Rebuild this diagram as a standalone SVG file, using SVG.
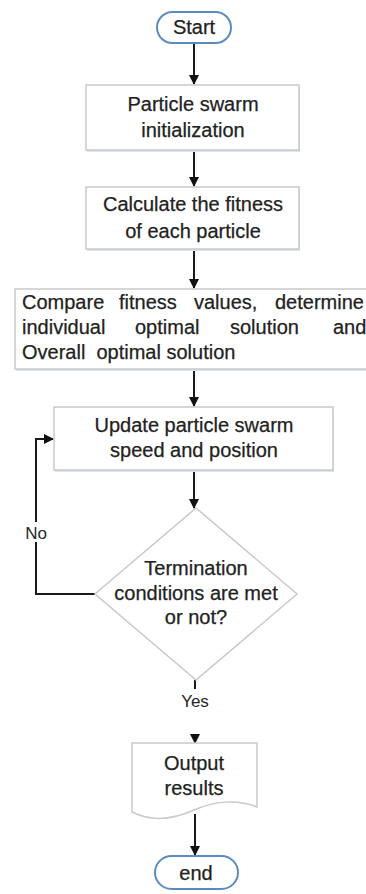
<svg xmlns="http://www.w3.org/2000/svg" width="366" height="894" viewBox="0 0 366 894">
<style>
.t{font-family:"Liberation Sans",Arial,sans-serif;font-size:20px;fill:#222;stroke:#222;stroke-width:0.25;text-anchor:middle}
.l{font-family:"Liberation Sans",Arial,sans-serif;font-size:20px;fill:#222;stroke:#222;stroke-width:0.25}
.lab{font-family:"Liberation Sans",Arial,sans-serif;font-size:17px;fill:#262626;text-anchor:middle}
.box{fill:#fff;stroke:#c9c9c9;stroke-width:1.5}
.sh{fill:#dbe4ee}
.term{fill:#fff;stroke:#5b8bc0;stroke-width:2}
.c{fill:none;stroke:#1a1a1a;stroke-width:2}
</style>
<defs>
<marker id="ah" markerWidth="10" markerHeight="10" refX="9" refY="5" orient="auto" markerUnits="userSpaceOnUse">
<path d="M0,0 L10,5 L0,10 Z" fill="#111"/>
</marker>
</defs>
<g id="connectors">
<path class="c" d="M194,43 V84" marker-end="url(#ah)"/>
<path class="c" d="M194,150 V186" marker-end="url(#ah)"/>
<path class="c" d="M194,249 V288" marker-end="url(#ah)"/>
<path class="c" d="M194,369 V406" marker-end="url(#ah)"/>
<path class="c" d="M194,470 V508" marker-end="url(#ah)"/>
<path class="c" d="M95,594 H36 V439 H53" marker-end="url(#ah)"/>
<path class="c" d="M195,680 V689"/>
<path class="c" d="M195,734 V743" marker-end="url(#ah)"/>
<path class="c" d="M195,814 V855" marker-end="url(#ah)"/>
<rect x="22" y="522" width="28" height="20" fill="#fff"/>
<text class="lab" x="36" y="539">No</text>
<text class="lab" x="195" y="707">Yes</text>
</g>
<g id="start">
<rect class="term" x="157" y="12" width="74" height="31" rx="15.5"/>
<text class="t" x="194" y="34">Start</text>
</g>
<g id="init">
<rect class="sh" x="87" y="87" width="213" height="65"/>
<rect class="box" x="86" y="85" width="213" height="65"/>
<text class="t" x="193" y="111">Particle swarm</text>
<text class="t" x="193" y="137">initialization</text>
</g>
<g id="fitness">
<rect class="sh" x="87" y="189" width="213" height="62"/>
<rect class="box" x="86" y="187" width="213" height="62"/>
<text class="t" x="193" y="211">Calculate the fitness</text>
<text class="t" x="193" y="238">of each particle</text>
</g>
<g id="compare">
<rect class="sh" x="16" y="291" width="360" height="80"/>
<rect class="box" x="15" y="289" width="360" height="80"/>
<text class="l" x="22" y="309">Compare</text>
<text class="l" x="119" y="309">fitness</text>
<text class="l" x="194" y="309">values,</text>
<text class="l" x="275" y="309">determine</text>
<text class="l" x="22" y="334">individual</text>
<text class="l" x="135" y="334">optimal</text>
<text class="l" x="230" y="334">solution</text>
<text class="l" x="333" y="334">and</text>
<text class="l" x="22" y="359" xml:space="preserve">Overall  optimal solution</text>
</g>
<g id="update">
<rect class="sh" x="55" y="409" width="279" height="63"/>
<rect class="box" x="54" y="407" width="279" height="63"/>
<text class="t" x="194" y="432">Update particle swarm</text>
<text class="t" x="194" y="457">speed and position</text>
</g>
<g id="decision">
<path d="M196,508 L297,594 L196,680 L95,594 Z" fill="#fff" stroke="#c9c9c9" stroke-width="1.5"/>
<text class="t" x="196" y="575">Termination</text>
<text class="t" x="196" y="600">conditions are met</text>
<text class="t" x="196" y="624">or not?</text>
</g>
<g id="output">
<path d="M132,743 H257 V807 C238,799 214,801 194,810 C172,820 150,821 132,812 Z" fill="#fff" stroke="#c9c9c9" stroke-width="1.5"/>
<text class="t" x="194" y="770">Output</text>
<text class="t" x="194" y="795">results</text>
</g>
<g id="end">
<rect class="term" x="155" y="856" width="83" height="33" rx="16.5"/>
<text class="t" x="196" y="880">end</text>
</g>
</svg>
